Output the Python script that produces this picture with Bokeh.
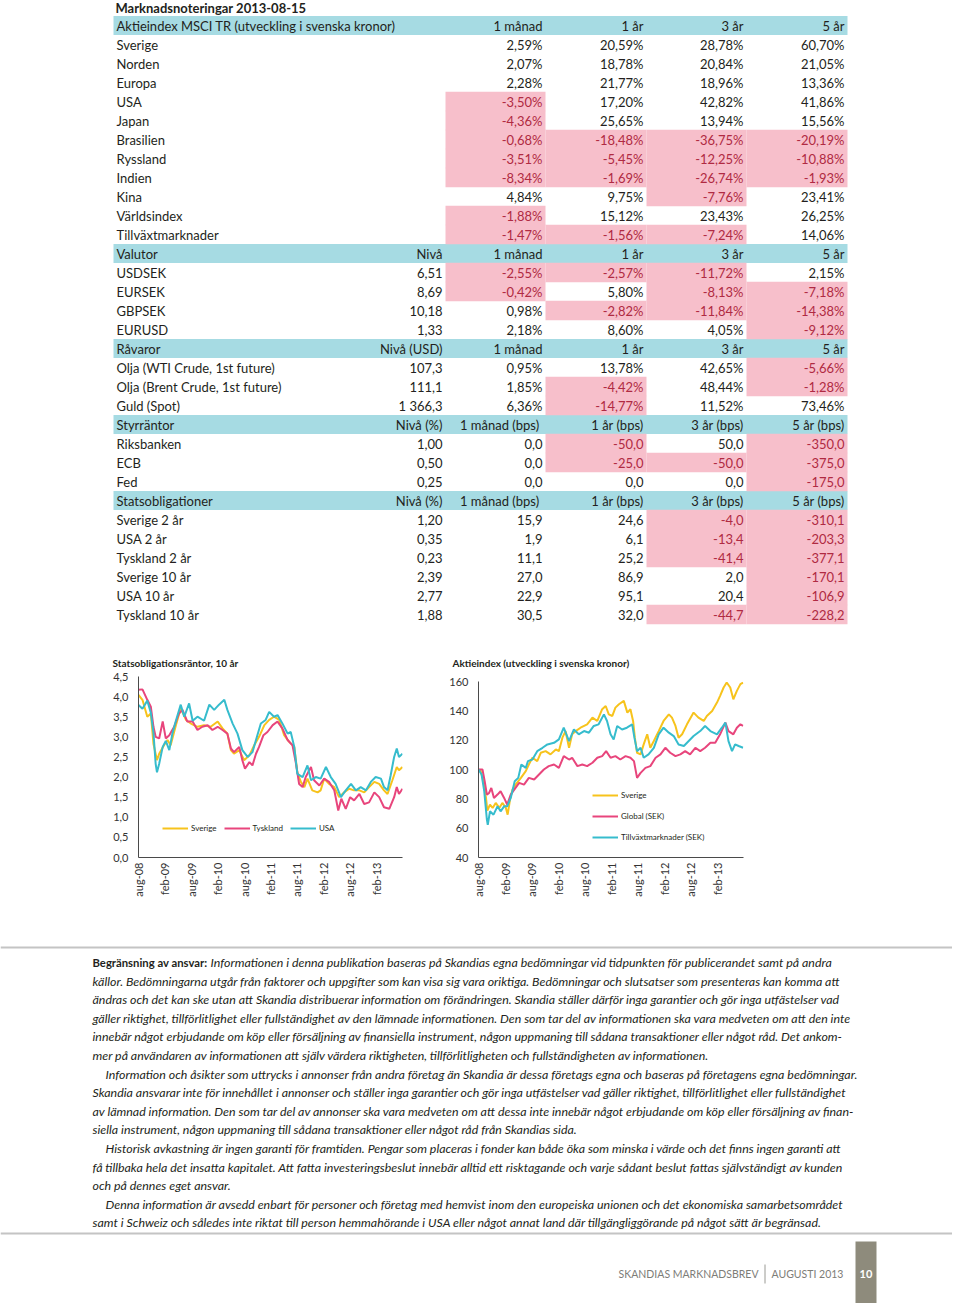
import math
from bokeh.plotting import figure
from bokeh.models import Range1d, FixedTicker, CustomJSTickFormatter, Legend, LegendItem, Spacer
from bokeh.layouts import column, row
from bokeh.embed import file_html
from bokeh.resources import INLINE
from bokeh.core.properties import value

# ---------------------------------------------------------------- data
page_title = "Marknadsnoteringar 2013-08-15"

aktie_header = ["Aktieindex MSCI TR (utveckling i svenska kronor)", "", "1 månad", "1 år", "3 år", "5 år"]
aktie_names = ["Sverige", "Norden", "Europa", "USA", "Japan", "Brasilien", "Ryssland", "Indien",
               "Kina", "Världsindex", "Tillväxtmarknader"]
aktie_niva = [""] * 11
aktie_1m = ["2,59%", "2,07%", "2,28%", "-3,50%", "-4,36%", "-0,68%", "-3,51%", "-8,34%", "4,84%", "-1,88%", "-1,47%"]
aktie_1y = ["20,59%", "18,78%", "21,77%", "17,20%", "25,65%", "-18,48%", "-5,45%", "-1,69%", "9,75%", "15,12%", "-1,56%"]
aktie_3y = ["28,78%", "20,84%", "18,96%", "42,82%", "13,94%", "-36,75%", "-12,25%", "-26,74%", "-7,76%", "23,43%", "-7,24%"]
aktie_5y = ["60,70%", "21,05%", "13,36%", "41,86%", "15,56%", "-20,19%", "-10,88%", "-1,93%", "23,41%", "26,25%", "14,06%"]

valuta_header = ["Valutor", "Nivå", "1 månad", "1 år", "3 år", "5 år"]
valuta_names = ["USDSEK", "EURSEK", "GBPSEK", "EURUSD"]
valuta_niva = ["6,51", "8,69", "10,18", "1,33"]
valuta_1m = ["-2,55%", "-0,42%", "0,98%", "2,18%"]
valuta_1y = ["-2,57%", "5,80%", "-2,82%", "8,60%"]
valuta_3y = ["-11,72%", "-8,13%", "-11,84%", "4,05%"]
valuta_5y = ["2,15%", "-7,18%", "-14,38%", "-9,12%"]

ravara_header = ["Råvaror", "Nivå (USD)", "1 månad", "1 år", "3 år", "5 år"]
ravara_names = ["Olja (WTI Crude, 1st future)", "Olja (Brent Crude, 1st future)", "Guld (Spot)"]
ravara_niva = ["107,3", "111,1", "1 366,3"]
ravara_1m = ["0,95%", "1,85%", "6,36%"]
ravara_1y = ["13,78%", "-4,42%", "-14,77%"]
ravara_3y = ["42,65%", "48,44%", "11,52%"]
ravara_5y = ["-5,66%", "-1,28%", "73,46%"]

styr_header = ["Styrräntor", "Nivå (%)", "1 månad  (bps)", "1 år (bps)", "3 år (bps)", "5 år (bps)"]
styr_names = ["Riksbanken", "ECB", "Fed"]
styr_niva = ["1,00", "0,50", "0,25"]
styr_1m = ["0,0", "0,0", "0,0"]
styr_1y = ["-50,0", "-25,0", "0,0"]
styr_3y = ["50,0", "-50,0", "0,0"]
styr_5y = ["-350,0", "-375,0", "-175,0"]

stats_header = ["Statsobligationer", "Nivå (%)", "1 månad  (bps)", "1 år (bps)", "3 år (bps)", "5 år (bps)"]
stats_names = ["Sverige 2 år", "USA 2 år", "Tyskland 2 år", "Sverige 10 år", "USA 10 år", "Tyskland 10 år"]
stats_niva = ["1,20", "0,35", "0,23", "2,39", "2,77", "1,88"]
stats_1m = ["15,9", "1,9", "11,1", "27,0", "22,9", "30,5"]
stats_1y = ["24,6", "6,1", "25,2", "86,9", "95,1", "32,0"]
stats_3y = ["-4,0", "-13,4", "-41,4", "2,0", "20,4", "-44,7"]
stats_5y = ["-310,1", "-203,3", "-377,1", "-170,1", "-106,9", "-228,2"]

chart1_title = "Statsobligationsräntor, 10 år"
chart2_title = "Aktieindex (utveckling i svenska kronor)"

# chart tick labels (one every 6 months from aug-08)
month_labels = ["aug-08", "feb-09", "aug-09", "feb-10", "aug-10", "feb-11", "aug-11", "feb-12", "aug-12", "feb-13"]

# Chart 1: 10-year government bond yields (months since aug-08, %)
rate_sverige = [(0, 4.04), (0.9, 3.92), (2.0, 3.5), (2.8, 3.58), (3.4, 2.83), (4.2, 2.42), (4.7, 2.58), (5.8, 2.79),
                (6.6, 2.92), (7.3, 2.79), (8.5, 3.29), (9.6, 3.71), (10.8, 3.42), (11.9, 3.33), (13.4, 3.25),
                (14.9, 3.29), (16.4, 3.25), (18.0, 3.38), (19.1, 3.21), (20.2, 3.08), (21.0, 2.67), (21.7, 2.58),
                (22.9, 2.67), (24.0, 2.42), (25.2, 2.54), (26.3, 2.79), (27.4, 3.0), (28.6, 3.29), (29.7, 3.42),
                (30.8, 3.5), (32.0, 3.42), (33.1, 3.04), (34.2, 2.88), (35.4, 2.75), (36.1, 2.12), (36.9, 1.88),
                (37.7, 1.75), (38.4, 1.96), (39.5, 1.67), (40.7, 1.62), (41.4, 1.67), (42.2, 1.96), (43.3, 1.83),
                (44.5, 1.75), (45.6, 1.5), (46.7, 1.62), (47.9, 1.71), (49.0, 1.67), (50.2, 1.67), (51.3, 1.62),
                (52.4, 1.75), (53.6, 1.88), (54.7, 1.83), (55.8, 1.67), (56.6, 1.58), (57.7, 1.92), (58.7, 2.25),
                (59.2, 2.17), (60.0, 2.25)]
rate_tyskland = [(0, 4.17), (0.9, 4.18), (2.0, 3.92), (2.8, 3.75), (3.4, 3.25), (3.9, 3.0), (4.7, 2.96), (5.5, 3.38),
                 (6.2, 2.96), (7.0, 3.04), (8.1, 3.25), (9.2, 3.58), (10.0, 3.67), (11.1, 3.38), (12.3, 3.38),
                 (13.4, 3.17), (14.5, 3.25), (15.7, 3.29), (16.8, 3.17), (18.0, 3.25), (19.1, 3.17), (20.2, 3.08),
                 (21.0, 2.71), (21.7, 2.62), (22.9, 2.75), (23.6, 2.42), (24.2, 2.21), (25.2, 2.37), (25.9, 2.29),
                 (26.7, 2.58), (27.4, 2.75), (28.4, 3.04), (29.3, 3.12), (30.5, 3.29), (31.6, 3.38), (32.7, 3.21),
                 (33.9, 2.92), (35.0, 2.79), (35.8, 2.33), (36.5, 1.83), (37.3, 1.75), (38.0, 2.0), (39.2, 2.25),
                 (39.9, 1.92), (41.1, 1.79), (42.2, 1.96), (43.3, 1.88), (44.5, 1.67), (45.4, 1.17), (46.1, 1.46),
                 (47.1, 1.21), (48.1, 1.5), (49.0, 1.42), (50.2, 1.58), (51.3, 1.33), (52.4, 1.37), (53.6, 1.62),
                 (54.7, 1.5), (55.8, 1.25), (57.0, 1.21), (58.1, 1.5), (58.7, 1.75), (59.2, 1.58), (60.0, 1.71)]
rate_usa = [(0, 3.79), (0.9, 3.7), (2.0, 3.9), (2.8, 3.6), (3.4, 3.1), (3.9, 2.33), (4.2, 2.12), (4.7, 2.33),
            (5.5, 2.75), (6.2, 2.9), (7.0, 2.67), (7.7, 3.08), (8.5, 3.4), (9.6, 3.8), (10.4, 3.5), (11.5, 3.83),
            (12.3, 3.4), (13.4, 3.5), (14.9, 3.4), (16.1, 3.8), (17.2, 3.67), (18.3, 3.8), (19.5, 3.92),
            (20.2, 3.67), (21.4, 3.33), (22.5, 3.08), (23.6, 2.67), (24.8, 2.5), (25.9, 2.62), (26.7, 2.92),
            (27.8, 3.33), (28.9, 3.42), (29.7, 3.62), (30.8, 3.5), (31.6, 3.54), (32.7, 3.33), (33.9, 3.08),
            (34.6, 3.12), (35.4, 2.75), (36.1, 2.08), (37.3, 2.0), (38.4, 2.29), (39.2, 1.92), (40.3, 2.0),
            (41.4, 1.96), (42.6, 2.25), (43.7, 2.0), (44.8, 1.83), (46.0, 1.5), (47.1, 1.67), (48.3, 1.83),
            (49.4, 1.67), (50.5, 1.75), (51.7, 1.67), (52.8, 1.88), (53.9, 2.0), (55.1, 1.96), (55.8, 1.75),
            (56.6, 1.67), (57.3, 2.04), (58.1, 2.5), (58.7, 2.71), (59.2, 2.5), (60.0, 2.58)]

# Chart 2: equity indices in SEK (months since aug-08, index)
idx_sverige = [(0, 100), (0.5, 98.9), (1.1, 92), (1.7, 80.6), (2.0, 72), (2.6, 76), (3.2, 73.8), (3.9, 77.2),
               (4.7, 73.8), (5.4, 77.2), (6.2, 73.8), (6.6, 69.2), (7.2, 80.6), (7.7, 86.3), (8.4, 89.7),
               (9.6, 94.3), (10.7, 98.9), (11.4, 103.4), (12.2, 108), (13.3, 105.7), (14.1, 111.4), (15.2, 112.5),
               (16.3, 110.3), (17.5, 113.7), (18.2, 112.5), (19.0, 121.7), (19.7, 126.2), (20.5, 114.8),
               (21.2, 124), (22.0, 126.2), (23.1, 128.5), (24.6, 130.8), (25.8, 135.4), (26.9, 133.1),
               (28.0, 141.1), (28.8, 143.3), (29.5, 137.6), (30.3, 136.5), (31.0, 142.2), (31.8, 144.5),
               (32.9, 146.8), (33.7, 138.8), (34.4, 141.1), (35.0, 133.1), (35.4, 121.7), (35.9, 111.4),
               (36.7, 110.3), (37.4, 117.1), (38.2, 124), (38.9, 114.8), (39.7, 119.4), (40.8, 126.2),
               (41.9, 133.1), (43.1, 137.6), (43.8, 135.4), (44.6, 129.7), (45.3, 121.7), (46.1, 124),
               (47.2, 130.8), (48.7, 138.8), (49.8, 135.4), (51.0, 133.1), (51.7, 136.5), (52.9, 139.9),
               (54.0, 145.6), (54.7, 150.2), (55.5, 155.9), (56.2, 159.3), (57.0, 155.9), (57.7, 147.9),
               (58.5, 153.6), (59.3, 158.2), (59.9, 159.3)]
idx_global = [(0, 100), (0.9, 100), (1.4, 92), (1.9, 82.9), (2.4, 84), (2.9, 87.4), (3.5, 80.6), (4.3, 82.9),
              (5.0, 85.2), (5.8, 80.6), (6.5, 76), (7.3, 82.9), (8.1, 86.3), (9.2, 90.9), (10.3, 89.7),
              (11.4, 94.3), (12.6, 93.2), (13.7, 96.6), (14.8, 100), (15.9, 102.3), (17.1, 103.4), (18.2, 101.1),
              (19.3, 109.1), (20.5, 106.8), (21.2, 108), (22.4, 102.3), (23.5, 103.4), (24.6, 102.3),
              (25.8, 104.6), (26.9, 108), (28.0, 109.1), (28.9, 112.5), (29.9, 108), (31.0, 109.1),
              (32.1, 106.8), (33.3, 109.1), (34.4, 108), (35.2, 105.7), (35.9, 94.3), (36.7, 97.7),
              (37.8, 101.1), (38.9, 102.3), (40.1, 108), (41.2, 110.3), (42.3, 114.8), (43.4, 111.4),
              (44.6, 109.1), (45.7, 110.3), (46.8, 112.5), (47.9, 110.3), (49.1, 114.8), (50.2, 112.5),
              (51.3, 114.8), (52.5, 118.2), (53.6, 118.2), (54.7, 124), (55.9, 132), (56.6, 126.2), (57.7, 124),
              (58.5, 128.5), (59.3, 130.8), (59.9, 129.7)]
idx_tillvaxt = [(0, 100), (0.7, 96.6), (1.3, 85.2), (1.9, 65.8), (2.1, 62.3), (2.6, 71.5), (3.4, 69.2), (4.3, 74.9),
                (5.0, 71.5), (5.8, 74.9), (6.5, 74.9), (7.3, 80.6), (8.2, 92), (9.0, 94.3), (9.7, 103.4),
                (10.7, 101.1), (11.2, 105.7), (12.2, 106.8), (13.3, 112.5), (14.5, 114.8), (15.6, 117.1),
                (17.1, 118.2), (18.2, 120.5), (19.3, 128.5), (20.5, 119.4), (21.6, 127.3), (22.7, 124),
                (23.9, 126.2), (25.0, 125.1), (26.1, 129.7), (27.2, 130.8), (28.4, 137.6), (29.1, 133.1),
                (29.9, 124), (30.6, 120.5), (31.4, 129.7), (32.5, 127.3), (33.6, 128.5), (34.8, 130.8),
                (35.3, 121.7), (35.9, 112.5), (36.7, 114.8), (37.4, 108), (38.5, 110.3), (39.7, 114.8),
                (40.8, 124), (41.9, 128.5), (43.1, 125.1), (44.2, 122.8), (45.3, 117.1), (46.5, 116),
                (47.6, 119.4), (48.7, 122.8), (50.2, 126.2), (51.3, 129.7), (52.5, 126.2), (54.0, 124),
                (55.1, 128.5), (55.9, 132), (56.6, 119.4), (57.4, 112.5), (58.1, 117.1), (58.9, 116), (59.9, 114.8)]

disclaimer_label = "Begränsning av ansvar:"
disclaimer_lines = [
    "Informationen i denna publikation baseras på Skandias egna bedömningar vid tidpunkten för publicerandet samt på andra",
    "källor. Bedömningarna utgår från faktorer och uppgifter som kan visa sig vara oriktiga. Bedömningar och slutsatser som presenteras kan komma att",
    "ändras och det kan ske utan att Skandia distribuerar information om förändringen. Skandia ställer därför inga garantier och gör inga utfästelser vad",
    "gäller riktighet, tillförlitlighet eller fullständighet av den lämnade informationen. Den som tar del av informationen ska vara medveten om att den inte",
    "innebär något erbjudande om köp eller försäljning av finansiella instrument, någon uppmaning till sådana transaktioner eller något råd. Det ankom-",
    "mer på användaren av informationen att själv värdera riktigheten, tillförlitligheten och fullständigheten av informationen.",
    "Information och åsikter som uttrycks i annonser från andra företag än Skandia är dessa företags egna och baseras på företagens egna bedömningar.",
    "Skandia ansvarar inte för innehållet i annonser och ställer inga garantier och gör inga utfästelser vad gäller riktighet, tillförlitlighet eller fullständighet",
    "av lämnad information. Den som tar del av annonser ska vara medveten om att dessa inte innebär något erbjudande om köp eller försäljning av finan-",
    "siella instrument, någon uppmaning till sådana transaktioner eller något råd från Skandias sida.",
    "Historisk avkastning är ingen garanti för framtiden. Pengar som placeras i fonder kan både öka som minska i värde och det finns ingen garanti att",
    "få tillbaka hela det insatta kapitalet. Att fatta investeringsbeslut innebär alltid ett risktagande och varje sådant beslut fattas självständigt av kunden",
    "och på dennes eget ansvar.",
    "Denna information är avsedd enbart för personer och företag med hemvist inom den europeiska unionen och det ekonomiska samarbetsområdet",
    "samt i Schweiz och således inte riktat till person hemmahörande i USA eller något annat land där tillgängliggörande på något sätt är begränsad.",
]
paragraph_starts = [6, 10, 13]
footer_left = "SKANDIAS MARKNADSBREV"
footer_right = "AUGUSTI 2013"
page_number = "10"

# ---------------------------------------------------------------- style
FONT = "Lato"
INK = "#231f20"
HEAD_BG = "#a6dbe3"
NEG_BG = "#f7bfcb"
NEG_INK = "#b02a42"
C_SE = "#f7c31c"
C_PINK = "#e8457c"
C_CYAN = "#36bccd"
AX = "#4a4a4a"

W = 952
TOP_H = 670
EDGES = [113, 345, 445, 545, 646, 746, 847]
ROW0, ROWH = 25, 19
TFS = "13px"

# ---------------------------------------------------------------- table figure (also holds chart titles)
tbl = figure(width=W, height=TOP_H, x_range=Range1d(0, W), y_range=Range1d(TOP_H, 0),
             x_axis_type=None, y_axis_type=None, min_border=0, output_backend="svg",
             toolbar_location=None, outline_line_color=None)

sections = [
    (aktie_header, [aktie_names, aktie_niva, aktie_1m, aktie_1y, aktie_3y, aktie_5y]),
    (valuta_header, [valuta_names, valuta_niva, valuta_1m, valuta_1y, valuta_3y, valuta_5y]),
    (ravara_header, [ravara_names, ravara_niva, ravara_1m, ravara_1y, ravara_3y, ravara_5y]),
    (styr_header, [styr_names, styr_niva, styr_1m, styr_1y, styr_3y, styr_5y]),
    (stats_header, [stats_names, stats_niva, stats_1m, stats_1y, stats_3y, stats_5y]),
]

head_y = []
neg_l, neg_r, neg_t, neg_b = [], [], [], []
lx, ly, lt = [], [], []
rx, ry, rt, rc = [], [], [], []
r = 0
for header, cols in sections:
    y = ROW0 + r * ROWH
    head_y.append(y)
    lx.append(116); ly.append(y); lt.append(header[0])
    for c in range(1, 6):
        if header[c]:
            rx.append(EDGES[c + 1] - 3); ry.append(y); rt.append(header[c]); rc.append(INK)
    r += 1
    for cells in zip(*cols):
        y = ROW0 + r * ROWH
        lx.append(116); ly.append(y); lt.append(cells[0])
        for c in range(1, 6):
            s = cells[c]
            if not s:
                continue
            neg = s.startswith("-")
            if neg:
                neg_l.append(EDGES[c]); neg_r.append(EDGES[c + 1])
                neg_t.append(y - ROWH / 2 - 0.3); neg_b.append(y + ROWH / 2 + 0.3)
            rx.append(EDGES[c + 1] - 3); ry.append(y); rt.append(s); rc.append(NEG_INK if neg else INK)
        r += 1

tbl.rect(x=(EDGES[0] + EDGES[-1]) / 2, y=head_y, width=EDGES[-1] - EDGES[0], height=ROWH,
         fill_color=HEAD_BG, line_color=None)
tbl.quad(left=neg_l, right=neg_r, top=neg_t, bottom=neg_b, fill_color=NEG_BG, line_color=None)
tbl.text(x=lx, y=ly, text=lt, text_font=value(FONT), text_font_size=TFS, text_color=INK,
         text_align="left", text_baseline="middle")
tbl.text(x=rx, y=ry, text=rt, text_font=value(FONT), text_font_size=TFS, text_color=rc,
         text_align="right", text_baseline="middle")
tbl.text(x=[115], y=[7], text=[page_title], text_font=value(FONT), text_font_size="13px",
         text_font_style="bold", text_color=INK, text_align="left", text_baseline="middle")
tbl.text(x=[112, 452], y=[662, 662], text=[chart1_title, chart2_title], text_font=value(FONT),
         text_font_size="10px", text_font_style="bold", text_color=INK, text_align="left",
         text_baseline="middle")


# ---------------------------------------------------------------- charts
def make_chart(series, yr, yticks, yfmt, w, h, bl, br, bt, bb, leg):
    p = figure(width=w, height=h, min_border_left=bl, min_border_right=br, min_border_top=bt,
               min_border_bottom=bb, x_range=Range1d(0, 60), y_range=Range1d(*yr),
               output_backend="svg", toolbar_location=None)
    p.xgrid.visible = False
    p.ygrid.visible = False
    p.outline_line_color = None
    p.xaxis.ticker = FixedTicker(ticks=[6 * i for i in range(len(month_labels))])
    p.xaxis.major_label_overrides = {6 * i: lab for i, lab in enumerate(month_labels)}
    p.xaxis.major_label_orientation = math.pi / 2
    p.yaxis.ticker = FixedTicker(ticks=yticks)
    if yfmt:
        p.yaxis.formatter = CustomJSTickFormatter(code="return tick.toFixed(1).replace('.', ',');")
    for ax in (p.xaxis[0], p.yaxis[0]):
        ax.axis_line_color = AX
        ax.axis_line_width = 1
        ax.major_tick_line_color = None
        ax.minor_tick_line_color = None
        ax.major_tick_in = 0
        ax.major_tick_out = 0
        ax.major_label_text_font = FONT
        ax.major_label_text_font_size = "11px"
        ax.major_label_text_color = "#333333"
    p.xaxis.major_label_standoff = 5
    p.yaxis.major_label_standoff = 10
    items = []
    for name, pts, color in series:
        rr = p.line([a for a, _ in pts], [b for _, b in pts], line_color=color, line_width=2)
        items.append(LegendItem(label=name, renderers=[rr]))
    legend = Legend(items=items, padding=0, margin=0, border_line_color=None,
                    background_fill_alpha=0, glyph_width=26, label_standoff=3,
                    label_text_font=FONT, label_text_font_size="8px", label_text_color=INK, **leg)
    p.add_layout(legend)
    return p


CH_H = 905 - TOP_H
c1 = make_chart([("Sverige", rate_sverige, C_SE), ("Tyskland", rate_tyskland, C_PINK), ("USA", rate_usa, C_CYAN)],
                (0, 4.5), [0.5 * i for i in range(10)], True,
                440, CH_H, 138, 38, 6, 48,
                dict(location=(24, 19), orientation="horizontal", spacing=7, label_height=20, glyph_height=20))
c2 = make_chart([("Sverige", idx_sverige, C_SE), ("Global (SEK)", idx_global, C_PINK),
                 ("Tillväxtmarknader (SEK)", idx_tillvaxt, C_CYAN)],
                (40, 160), [40 + 20 * i for i in range(7)], False,
                W - 440, CH_H - 5, 38, W - 440 - 38 - 265, 6, 48,
                dict(location=(114, 10), orientation="vertical", spacing=1, label_height=20, glyph_height=20))

# ---------------------------------------------------------------- disclaimer / footer
txt = figure(width=W, height=398, x_range=Range1d(0, W), y_range=Range1d(1303, 905),
             x_axis_type=None, y_axis_type=None, min_border=0, output_backend="svg",
             toolbar_location=None, outline_line_color=None)
txt.segment(x0=[0, 0], x1=[W, W], y0=[947, 1233], y1=[947, 1233], line_color="#c4c4c4", line_width=2)

L0, LSTEP = 962, 18.6
dx, dy, dt = [], [], []
for i, line in enumerate(disclaimer_lines):
    if i == 0:
        x = 210
    elif i in paragraph_starts:
        x = 105
    else:
        x = 92
    dx.append(x); dy.append(L0 + i * LSTEP); dt.append(line)
txt.text(x=dx, y=dy, text=dt, text_font=value(FONT), text_font_size="12.4px", text_font_style="italic",
         text_color=INK, text_align="left", text_baseline="middle")
txt.text(x=[92], y=[L0], text=[disclaimer_label], text_font=value(FONT), text_font_size="11.3px",
         text_font_style="bold", text_color=INK, text_align="left", text_baseline="middle")

txt.quad(left=[855], right=[876], top=[1241], bottom=[1303], fill_color="#8e8b7c", line_color=None)
txt.text(x=[865.5], y=[1273], text=[page_number], text_font=value(FONT), text_font_size="11px",
         text_font_style="bold", text_color="white", text_align="center", text_baseline="middle")
txt.text(x=[758], y=[1273], text=[footer_left], text_font=value(FONT), text_font_size="10.5px",
         text_color="#7d7d78", text_align="right", text_baseline="middle")
txt.text(x=[771], y=[1273], text=[footer_right], text_font=value(FONT), text_font_size="10.5px",
         text_color="#7d7d78", text_align="left", text_baseline="middle")
txt.segment(x0=[764.5], x1=[764.5], y0=[1264], y1=[1283], line_color="#9a9a94", line_width=1)

layout = column(tbl, row(c1, column(Spacer(width=W - 440, height=5), c2)), txt)
open("out.html", "w").write(file_html(layout, INLINE))
